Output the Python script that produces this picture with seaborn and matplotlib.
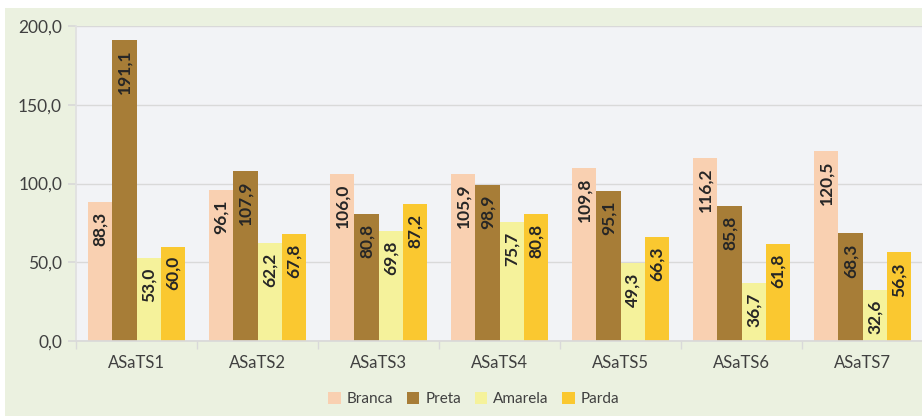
import matplotlib.pyplot as plt
from matplotlib.patches import Rectangle
from matplotlib.ticker import FuncFormatter, FixedLocator
import numpy as np
import seaborn as sns
import pandas as pd

sns.set_theme(style='white')
plt.rcParams['font.family'] = ['Lato', 'DejaVu Sans']

categorias = ['ASaTS1', 'ASaTS2', 'ASaTS3', 'ASaTS4', 'ASaTS5', 'ASaTS6', 'ASaTS7']
grupos = ['Branca', 'Preta', 'Amarela', 'Parda']
branca = [88.3, 96.1, 106.0, 105.9, 109.8, 116.2, 120.5]
preta = [191.1, 107.9, 80.8, 98.9, 95.1, 85.8, 68.3]
amarela = [53.0, 62.2, 69.8, 75.7, 49.3, 36.7, 32.6]
parda = [60.0, 67.8, 87.2, 80.8, 66.3, 61.8, 56.3]

cores = ['#F9D0B1', '#A77D37', '#F5F29B', '#FAC830']

rows = []
for g, vals in zip(grupos, [branca, preta, amarela, parda]):
    for c, v in zip(categorias, vals):
        rows.append((c, g, v))
df = pd.DataFrame(rows, columns=['cat', 'grupo', 'valor'])

fig = plt.figure(figsize=(9.22, 4.16), dpi=100, facecolor='white')
fig.patches.append(Rectangle((5 / 922, 0), 1, 408 / 416, transform=fig.transFigure,
                             facecolor='#EBF1E0', edgecolor='none', zorder=-10))
ax = fig.add_axes([76 / 922, 1 - 341 / 416, 847 / 922, 315 / 416])
ax.set_facecolor('#F2F3F6')

sns.barplot(data=df, x='cat', y='valor', hue='grupo', palette=cores, ax=ax,
            errorbar=None, saturation=1, width=0.8, linewidth=0, legend=False)

for p in ax.patches:
    h = p.get_height()
    if h <= 0:
        continue
    ax.annotate(f'{h:.1f}'.replace('.', ','), (p.get_x() + p.get_width() / 2, h),
                xytext=(0, -7), textcoords='offset points', rotation=90,
                ha='center', va='top', fontsize=12.5, fontweight='bold', color='#262626')

ax.set_ylim(0, 200)
ax.set_xlim(-0.5, len(categorias) - 0.5)
ax.yaxis.set_major_locator(FixedLocator([0, 50, 100, 150, 200]))
ax.yaxis.set_major_formatter(FuncFormatter(lambda v, pos: f'{v:.1f}'.replace('.', ',')))
ax.grid(axis='y', color='#D9D9D9', linewidth=1)
ax.set_axisbelow(True)
ax.set_xlabel('')
ax.set_ylabel('')
for s in ['top', 'right']:
    ax.spines[s].set_visible(False)
ax.spines['left'].set_color('#E0E0E0')
ax.spines['bottom'].set_color('#D9D9D9')
ax.tick_params(axis='y', length=6, color='#D9D9D9', labelsize=12.5, labelcolor='#404040', pad=4, left=True)
ax.tick_params(axis='x', which='major', length=0, labelsize=12, labelcolor='#404040', pad=10)
ax.set_xticks(np.arange(-0.5, len(categorias)), minor=True)
ax.tick_params(axis='x', which='minor', length=6, color='#D9D9D9', bottom=True)

handles = [Rectangle((0, 0), 1, 1, facecolor=c, edgecolor='none') for c in cores]
fig.legend(handles, grupos, loc='center', bbox_to_anchor=(0.514, 0.041), ncol=4,
           frameon=False, fontsize=11, handlelength=0.8, handleheight=0.8,
           handletextpad=0.4, columnspacing=0.9, labelcolor='#404040')

fig.savefig('out.png', dpi=100, facecolor=fig.get_facecolor())
